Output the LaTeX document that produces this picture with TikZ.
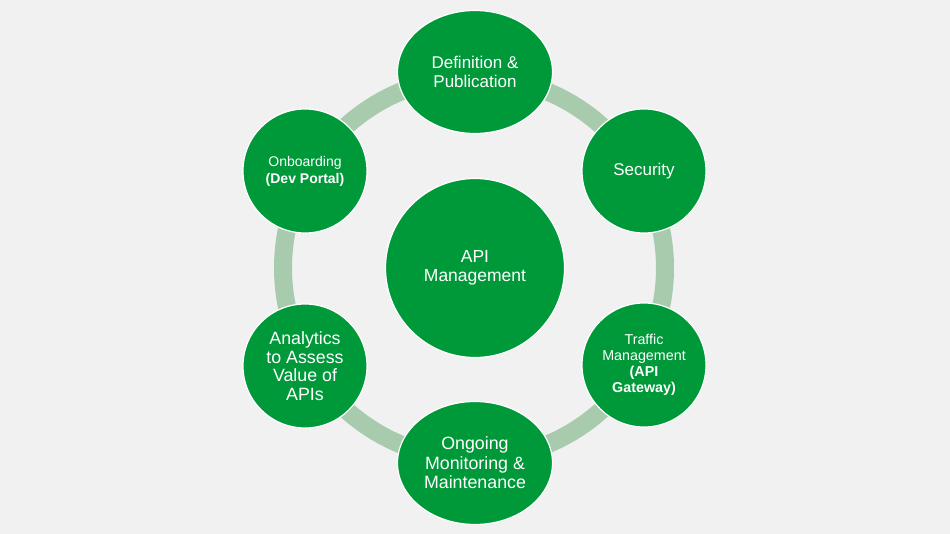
\documentclass[tikz,border=0pt]{standalone}
\usepackage{fontspec}
\setmainfont{Liberation Sans}
\usetikzlibrary{shapes.geometric}
\definecolor{amgreen}{RGB}{0,153,58}
\definecolor{amring}{RGB}{168,203,174}
\definecolor{ambg}{RGB}{241,241,241}

\begin{document}
\begin{tikzpicture}[
  x=1pt, y=-1pt,
  ring/.style={draw=amring, line width=18pt},
  stage/.style={circle, fill=amgreen, draw=white, line width=1.2pt, text=white,
                align=center, inner sep=0pt, minimum size=124pt},
  oval/.style={stage, ellipse, minimum width=155pt, minimum height=123pt},
  hub/.style={stage, minimum size=179pt}
]
\fill[ambg] (0,0) rectangle (950,534);
\useasboundingbox (0,0) rectangle (950,534);

% ring behind the stages
\coordinate (hubc) at (474,268);
\draw[ring] (hubc) circle[radius=191pt];

\node[hub, font=\fontsize{17.5}{19.5}\selectfont] (api) at (475,268) {API\\Management};

\node[oval, font=\fontsize{17}{19}\selectfont] (def) at (475,72) {Definition \&\\Publication};
\node[stage, font=\fontsize{17}{19}\selectfont] (sec) at (644,171) {Security};
\node[stage, font=\fontsize{14.3}{16}\selectfont] (traf) at (644,365)
  {Traffic\\Management\\\textbf{(API}\\\textbf{Gateway)}};
\node[oval, font=\fontsize{17.8}{19.5}\selectfont] (ongo) at (475,463)
  {Ongoing\\Monitoring \&\\Maintenance};
\node[stage, font=\fontsize{17.8}{18.5}\selectfont] (anal) at (305,366)
  {Analytics\\to Assess\\Value of\\APIs};
\node[stage, font=\fontsize{14}{17}\selectfont] (onb) at (305,171)
  {Onboarding\\\textbf{(Dev Portal)}};
\end{tikzpicture}
\end{document}
